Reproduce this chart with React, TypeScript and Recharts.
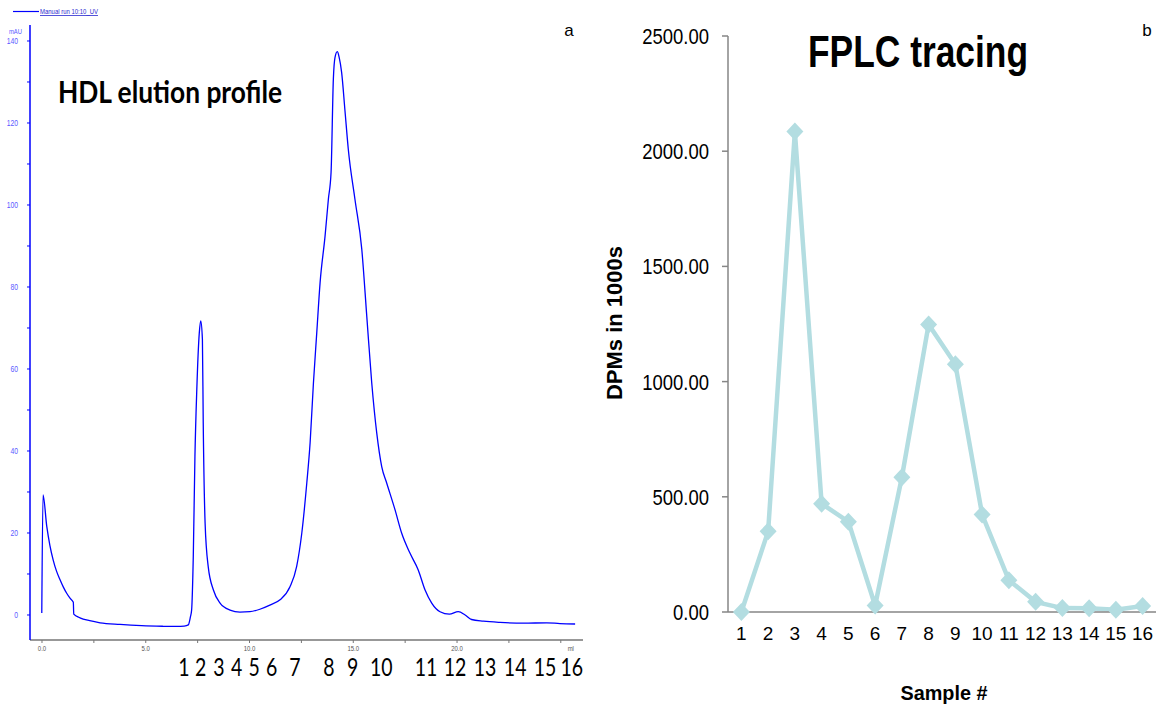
import React from "react";
import { LineChart, Line, XAxis, YAxis } from "recharts";

// ---- panel a: UV trace (ml, mAU) ----
const uvVolume = [
  -0.01, 0.05, 0.23, 0.38, 0.54, 0.7, 0.87, 1.03, 1.19, 1.35, 1.51, 1.53, 1.83, 2.3, 2.8, 3.76, 4.8, 5.8, 6.5, 6.85,
  7.05, 7.15, 7.21, 7.29, 7.37, 7.46, 7.58, 7.65, 7.73, 7.77, 7.86, 8.01, 8.26, 8.58, 9.06, 9.54, 10.02, 10.5, 10.98,
  11.47, 11.95, 12.27, 12.52, 12.76, 12.92, 13.08, 13.24, 13.4, 13.64, 13.8, 13.93, 14.04, 14.12, 14.23, 14.32, 14.44,
  14.6, 14.76, 15.08, 15.41, 15.65, 15.89, 16.13, 16.37, 16.61, 17.01, 17.33, 17.73, 18.13, 18.46, 18.78, 19.18, 19.63,
  20.06, 20.39, 20.7, 21.27, 22.07, 23.2, 24.32, 24.96, 25.69,
];
const uvAbs = [
  0.5, 29.3, 21.6, 17, 13.4, 10.7, 8.6, 6.8, 5.3, 4.1, 3.1, 0.2, -0.7, -1.4, -1.9, -2.3, -2.6, -2.75, -2.8, -2.7,
  -2.4, -0.5, 1.2, 14.2, 38.7, 55, 68.8, 71.7, 67.2, 46.8, 22.4, 11.8, 6.1, 2.9, 1.2, 0.7, 0.8, 1.4, 2.4,
  3.7, 6.9, 11.8, 20, 32.2, 42, 56.6, 68.8, 81, 92.4, 101.4, 108, 130.7, 136, 137.4, 136, 132.3,
  123, 113.6, 101.4, 89.2, 72.9, 56.6, 44.4, 36.2, 32.2, 25.7, 20, 15.1, 11, 6.1, 2.9, 0.8, 0.2,
  0.8, 0, -1.1, -1.5, -1.8, -2.0, -1.9, -2.1, -2.2,
];
const mlTicks = [0, 2.5, 5, 7.5, 10, 12.5, 15, 17.5, 20, 22.5, 25];
const mauTicks = [0, 10, 20, 30, 40, 50, 60, 70, 80, 90, 100, 110, 120, 130, 140];
const fractionPos = [6.84, 7.65, 8.53, 9.38, 10.22, 11.07, 12.19, 13.83, 14.97, 16.35, 18.51, 19.9, 21.35, 22.8, 24.24, 25.53];
const fractionLabels = ["1", "2", "3", "4", "5", "6", "7", "8", "9", "10", "11", "12", "13", "14", "15", "16"];

// ---- panel b: FPLC tracing ----
const samples = [1, 2, 3, 4, 5, 6, 7, 8, 9, 10, 11, 12, 13, 14, 15, 16];
const dpms = [0, 350, 2085, 470, 392, 28, 585, 1248, 1075, 423, 138, 44, 17, 16, 10, 26];
const dpmTicks = [0, 500, 1000, 1500, 2000, 2500];

const uvData = uvVolume.map((v, i) => ({ ml: v, mAU: uvAbs[i] }));
const fplcData = samples.map((s, i) => ({ sample: s, dpm: dpms[i] }));

const ARIAL = "'Liberation Sans', Arial, sans-serif";
const CALIBRI = "Lato, 'Open Sans', sans-serif";
const TEAL = "#b3dde1";
const ML_DOMAIN: [number, number] = [-0.578, 26.07];

const MauTick = (props: any) => {
  const { x, y, payload } = props;
  if (payload.value % 20 !== 0) return <g />;
  return (
    <text transform={`translate(${x},${y + 3}) scale(0.8,1)`} textAnchor="end" fontFamily={ARIAL} fontSize={8.5} fill="#5a5aff">
      {payload.value}
    </text>
  );
};

const MlTick = (props: any) => {
  const { x, y, payload } = props;
  const v = payload.value;
  if (v === 25) {
    return (
      <text transform={`translate(${x + 10},${y + 6}) scale(0.8,1)`} textAnchor="middle" fontFamily={ARIAL} fontSize={7.5} fill="#555">
        ml
      </text>
    );
  }
  if (v % 5 !== 0) return <g />;
  return (
    <text transform={`translate(${x},${y + 6}) scale(0.8,1)`} textAnchor="middle" fontFamily={ARIAL} fontSize={7.5} fill="#555">
      {v.toFixed(1)}
    </text>
  );
};

const FractionTick = (props: any) => {
  const { x, y, payload } = props;
  const i = fractionPos.indexOf(payload.value);
  return (
    <text transform={`translate(${x},${y + 10}) scale(0.78,1)`} textAnchor="middle" fontFamily={CALIBRI} fontSize={25} fill="#000">
      {fractionLabels[i]}
    </text>
  );
};

const DpmTick = (props: any) => {
  const { x, y, payload } = props;
  return (
    <text transform={`translate(${x},${y + 8}) scale(0.84,1)`} textAnchor="end" fontFamily={ARIAL} fontSize={22} fill="#000">
      {payload.value.toFixed(2)}
    </text>
  );
};

const SampleTick = (props: any) => {
  const { x, y, payload } = props;
  return (
    <text x={x} y={y + 20} textAnchor="middle" fontFamily={ARIAL} fontSize={19} fill="#000">
      {payload.value}
    </text>
  );
};

const Diamond = (props: any) => {
  const { cx, cy } = props;
  if (cx == null || cy == null) return <g />;
  return <path d={`M${cx},${cy - 9} L${cx + 8.5},${cy} L${cx},${cy + 9} L${cx - 8.5},${cy} Z`} fill={TEAL} />;
};

export default function App() {
  return (
    <div style={{ position: "absolute", left: 0, top: 0, width: 1159, height: 709, background: "#fff" }}>
      {/* panel a */}
      <div style={{ position: "absolute", left: 0, top: 0 }}>
        <LineChart width={600} height={709} data={uvData} margin={{ top: 25, right: 17, bottom: 0, left: 0 }}>
          <XAxis
            xAxisId="a_ml"
            dataKey="ml"
            type="number"
            domain={ML_DOMAIN}
            ticks={mlTicks}
            allowDataOverflow
            height={18}
            tickSize={3}
            axisLine={{ stroke: "#333", strokeWidth: 1.2 }}
            tickLine={{ stroke: "#777" }}
            tick={<MlTick />}
            interval={0}
          />
          <XAxis
            xAxisId="b_frac"
            dataKey="ml"
            type="number"
            domain={ML_DOMAIN}
            ticks={fractionPos}
            allowDataOverflow
            height={51}
            axisLine={false}
            tickLine={false}
            tick={<FractionTick />}
            interval={0}
          />
          <YAxis
            type="number"
            domain={[-6.1, 143.9]}
            ticks={mauTicks}
            allowDataOverflow
            width={30}
            tickSize={3}
            tickMargin={9}
            axisLine={{ stroke: "#0000ff", strokeWidth: 1.5 }}
            tickLine={{ stroke: "#0000ff" }}
            tick={<MauTick />}
            interval={0}
          />
          <Line
            xAxisId="a_ml"
            type="monotone"
            dataKey="mAU"
            stroke="#0000ff"
            strokeWidth={1.3}
            dot={false}
            isAnimationActive={false}
          />
        </LineChart>
      </div>

      {/* panel b */}
      <div style={{ position: "absolute", left: 600, top: 0 }}>
        <LineChart width={559} height={709} data={fplcData} margin={{ top: 36, right: 3, bottom: 0, left: 0 }}>
          <XAxis
            dataKey="sample"
            type="number"
            domain={[0.5, 16.5]}
            ticks={samples}
            height={97}
            axisLine={{ stroke: "#868686", strokeWidth: 1.5 }}
            tickLine={false}
            tick={<SampleTick />}
            interval={0}
          />
          <YAxis
            type="number"
            domain={[0, 2500]}
            ticks={dpmTicks}
            width={128}
            tickSize={6}
            tickMargin={13}
            axisLine={{ stroke: "#868686", strokeWidth: 1.5 }}
            tickLine={{ stroke: "#868686", strokeWidth: 1.5 }}
            tick={<DpmTick />}
            interval={0}
          />
          <Line
            type="linear"
            dataKey="dpm"
            stroke={TEAL}
            strokeWidth={4.5}
            dot={<Diamond />}
            isAnimationActive={false}
          />
        </LineChart>
      </div>

      {/* annotations */}
      <svg width={1159} height={709} style={{ position: "absolute", left: 0, top: 0, pointerEvents: "none" }}>
        <line x1={13} y1={11.5} x2={39} y2={11.5} stroke="#0000ff" strokeWidth={1.2} />
        <text x={40} y={14} fontFamily={ARIAL} fontSize={8} fill="#2a2ad0" textDecoration="underline" textLength={58} lengthAdjust="spacingAndGlyphs">
          Manual run 10:10_UV
        </text>
        <text x={9} y={34} fontFamily={ARIAL} fontSize={8} fill="#5a5aff" textLength={13} lengthAdjust="spacingAndGlyphs">
          mAU
        </text>
        <text x={58} y={103} fontFamily={CALIBRI} fontWeight={700} fontSize={30} fill="#000" textLength={224} lengthAdjust="spacingAndGlyphs">
          HDL elution profile
        </text>
        <text x={569} y={36} textAnchor="middle" fontFamily={ARIAL} fontSize={17} fill="#000">
          a
        </text>
        <text x={1147} y={36} textAnchor="middle" fontFamily={ARIAL} fontSize={17} fill="#000">
          b
        </text>
        <text x={808} y={67} fontFamily={ARIAL} fontWeight={700} fontSize={44} fill="#000" textLength={220} lengthAdjust="spacingAndGlyphs">
          FPLC tracing
        </text>
        <text
          transform="translate(622,323) rotate(-90)"
          textAnchor="middle"
          fontFamily={ARIAL}
          fontWeight={700}
          fontSize={22}
          fill="#000"
        >
          DPMs in 1000s
        </text>
        <text x={944} y={700} textAnchor="middle" fontFamily={ARIAL} fontWeight={700} fontSize={21} fill="#000" textLength={87} lengthAdjust="spacingAndGlyphs">
          Sample #
        </text>
      </svg>
    </div>
  );
}
